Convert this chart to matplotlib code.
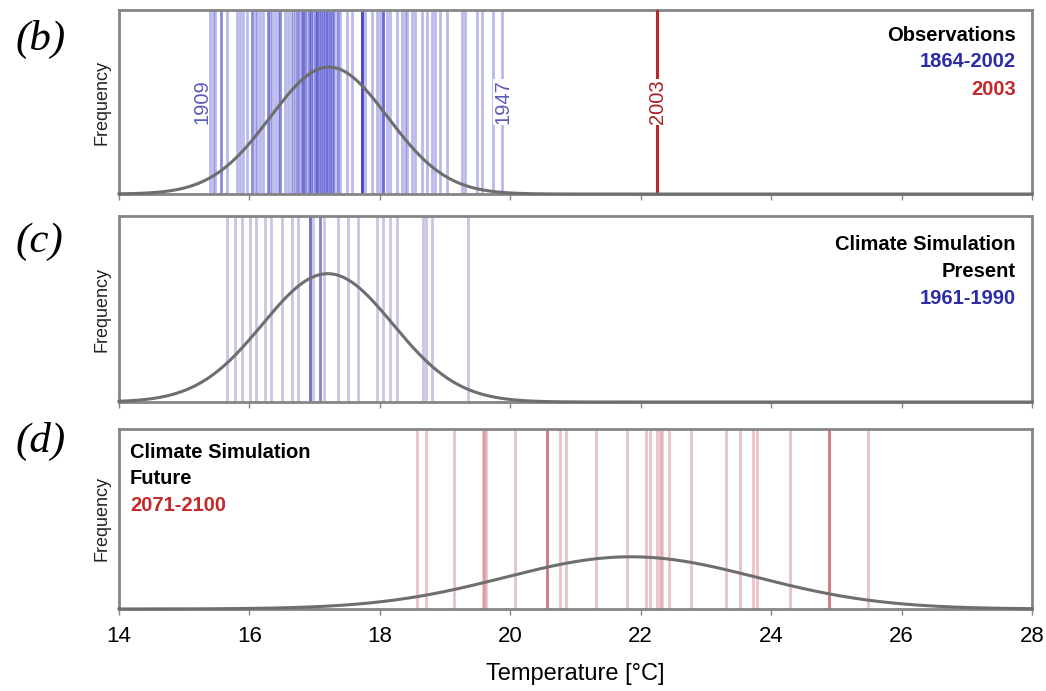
import matplotlib

matplotlib.use("Agg")
import matplotlib.pyplot as plt  # noqa: E402
import numpy as np  # noqa: E402

# Summer mean temperatures (deg C), one value per year
obs_temps = [
    15.40, 15.44, 15.47, 15.56, 15.56, 15.66, 15.81, 15.86, 15.90, 15.96,
    16.04, 16.04, 16.09, 16.12, 16.16, 16.21, 16.28, 16.28, 16.32, 16.35,
    16.39, 16.44, 16.47, 16.47, 16.55, 16.59, 16.64, 16.67, 16.70, 16.73,
    16.75, 16.78, 16.80, 16.82, 16.82, 16.85, 16.87, 16.91, 16.91, 16.94,
    16.95, 16.98, 17.00, 17.02, 17.04, 17.04, 17.06, 17.08, 17.10, 17.13,
    17.13, 17.16, 17.18, 17.19, 17.21, 17.24, 17.24, 17.26, 17.28, 17.30,
    17.34, 17.36, 17.39, 17.50, 17.57, 17.73, 17.73, 17.73, 17.73, 17.73,
    17.77, 17.88, 17.96, 18.00, 18.05, 18.05, 18.05, 18.11, 18.16, 18.26,
    18.34, 18.39, 18.42, 18.49, 18.54, 18.65, 18.72, 18.80, 18.85, 18.92,
    19.03, 19.26, 19.31, 19.49, 19.57, 19.74, 19.87,
]
temp_2003 = 22.25
present_temps = [
    15.66, 15.78, 15.89, 16.01, 16.10, 16.24, 16.33, 16.50, 16.65, 16.74,
    16.93, 16.93, 16.93, 16.97, 17.08, 17.08, 17.08, 17.14, 17.36, 17.51,
    17.67, 17.96, 18.05, 18.16, 18.26, 18.66, 18.71, 18.80, 19.35, 16.93,
]
future_temps = [
    18.57, 18.71, 19.14, 19.58, 19.63, 20.07, 20.56, 20.56, 20.76, 20.85,
    21.31, 21.79, 22.08, 22.14, 22.25, 22.33, 22.43, 22.77, 23.31, 23.52,
    23.72, 23.78, 24.29, 24.89, 24.89, 24.89, 25.49, 22.30, 19.60, 20.56,
]

# fitted normal distributions: (mean, std)
obs_fit = (17.22, 0.90)
present_fit = (17.20, 1.00)
future_fit = (21.85, 1.93)

x_ticks = [14, 16, 18, 20, 22, 24, 26, 28]

SANS = ["Liberation Sans", "DejaVu Sans"]
SPINE = "#858585"
CURVE = "#6e6e6e"
BLUE_TXT = "#2c2ca8"
RED_TXT = "#c42828"

fig = plt.figure(figsize=(10.46, 6.91), dpi=100)
panels = [
    [0.1138, 0.7192, 0.8728, 0.2663],
    [0.1138, 0.4182, 0.8728, 0.2692],
    [0.1138, 0.1187, 0.8728, 0.2605],
]
axes = [fig.add_axes(p) for p in panels]

xs = np.linspace(14, 28, 600)


def gauss(mu, sd):
    return np.exp(-0.5 * ((xs - mu) / sd) ** 2) / (sd * np.sqrt(2 * np.pi))


def style(ax, peak_frac, fit, letter, letter_y):
    mu, sd = fit
    ax.plot(xs, gauss(mu, sd), color=CURVE, lw=2.2, zorder=5, clip_on=False)
    ax.set_xlim(14, 28)
    ax.set_ylim(0, 1 / (sd * np.sqrt(2 * np.pi)) / peak_frac)
    ax.set_yticks([])
    ax.set_xticks(x_ticks)
    ax.tick_params(axis="x", direction="out", length=4, width=1,
                   color=SPINE, labelbottom=False)
    for sp in ax.spines.values():
        sp.set_color(SPINE)
        sp.set_linewidth(2)
    ax.set_ylabel("Frequency", family=SANS, fontsize=13, color="#222222",
                  labelpad=6)
    ax.text(-0.113, letter_y, letter, transform=ax.transAxes, ha="left",
            va="center", family=["Liberation Serif", "DejaVu Serif"],
            style="italic", fontsize=31)


# (b) observations
ax = axes[0]
for t in obs_temps:
    ax.axvline(t, color="#2c2cc8", alpha=0.33, lw=2.0, zorder=2)
ax.axvline(temp_2003, color="#b82828", lw=2.2, zorder=3)
style(ax, 0.69, obs_fit, "(b)", 0.84)
ax.text(15.27, 0.5, "1909", rotation=90, ha="center", va="center",
        color="#5a5ab8", fontsize=14.5, family=SANS,
        transform=ax.get_xaxis_transform(), zorder=4)
ax.text(19.89, 0.5, "1947", rotation=90, ha="center", va="center",
        color="#5a5ab8", fontsize=14.5, family=SANS,
        transform=ax.get_xaxis_transform(), zorder=4,
        bbox=dict(fc="white", ec="none", pad=0.5))
ax.text(temp_2003, 0.5, "2003", rotation=90, ha="center", va="center",
        color="#a82020", fontsize=14.5, family=SANS,
        transform=ax.get_xaxis_transform(), zorder=4,
        bbox=dict(fc="white", ec="none", pad=0.5))
for txt, col, y in [("Observations", "black", 0.86),
                    ("1864-2002", BLUE_TXT, 0.72),
                    ("2003", RED_TXT, 0.57)]:
    ax.text(0.982, y, txt, transform=ax.transAxes, ha="right", va="center",
            color=col, fontsize=14.5, fontweight="bold", family=SANS)

# (c) present-day simulation
ax = axes[1]
for t in present_temps:
    ax.axvline(t, color="#4848a8", alpha=0.3, lw=2.0, zorder=2)
style(ax, 0.69, present_fit, "(c)", 0.86)
for txt, col, y in [("Climate Simulation", "black", 0.845),
                    ("Present", "black", 0.70),
                    ("1961-1990", BLUE_TXT, 0.555)]:
    ax.text(0.982, y, txt, transform=ax.transAxes, ha="right", va="center",
            color=col, fontsize=14.5, fontweight="bold", family=SANS)

# (d) future scenario
ax = axes[2]
for t in future_temps:
    ax.axvline(t, color="#b83848", alpha=0.3, lw=2.0, zorder=2)
style(ax, 0.29, future_fit, "(d)", 0.93)
for txt, col, y in [("Climate Simulation", "black", 0.87),
                    ("Future", "black", 0.725),
                    ("2071-2100", RED_TXT, 0.575)]:
    ax.text(0.012, y, txt, transform=ax.transAxes, ha="left", va="center",
            color=col, fontsize=14.5, fontweight="bold", family=SANS)

ax.tick_params(axis="x", labelbottom=True, labelsize=16, pad=8)
for lbl in ax.get_xticklabels():
    lbl.set_family(SANS)
ax.set_xlabel("Temperature [°C]", family=SANS, fontsize=17, labelpad=12)

fig.savefig("out.png", dpi=100, facecolor="white")
plt.close(fig)
